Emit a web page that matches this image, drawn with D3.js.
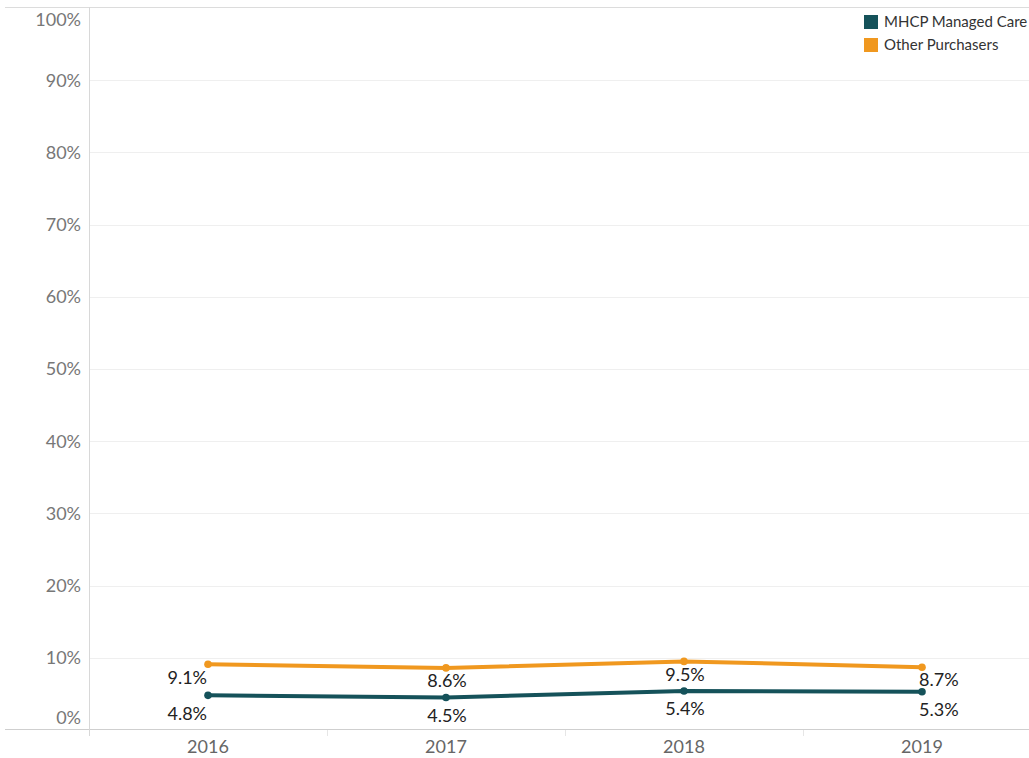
<!DOCTYPE html>
<html>
<head>
<meta charset="utf-8">
<script src="https://cdn.jsdelivr.net/npm/d3@7"></script>
<style>
  body { margin: 0; background: #fff; }
  svg { font-family: Lato, "Open Sans", sans-serif; }
</style>
</head>
<body>
<svg id="chart" width="1029" height="758"></svg>
<script>
const years = ["2016", "2017", "2018", "2019"];
const mhcpValues = [0.048, 0.045, 0.054, 0.053];
const otherValues = [0.091, 0.086, 0.095, 0.087];
const yTicks = [0, 0.1, 0.2, 0.3, 0.4, 0.5, 0.6, 0.7, 0.8, 0.9, 1.0];
const seriesNames = ["MHCP Managed Care", "Other Purchasers"];
const seriesColors = ["#15525a", "#f0981f"];

const svg = d3.select("#chart");
const plotLeft = 89, plotTop = 8, plotBottom = 730;

let xScale = d3.scaleBand().domain(years).range([plotLeft, plotLeft + 238 * 4]);
let yScale = d3.scaleLinear().domain([0, 1]).range([plotBottom, plotTop]);

// gridlines
svg.selectAll(".grid")
  .data(yTicks.filter(function(d){ return d > 0 && d < 1; }))
  .enter().append("line")
  .attr("x1", plotLeft).attr("x2", 1029)
  .attr("y1", function(d){ return Math.round(yScale(d)) + 0.5; })
  .attr("y2", function(d){ return Math.round(yScale(d)) + 0.5; })
  .style("stroke", "#efefef").style("stroke-width", 1);

// frame lines
svg.append("line").attr("x1", 5).attr("x2", 1029).attr("y1", 7.5).attr("y2", 7.5)
  .style("stroke", "#dcdcdc");
svg.append("line").attr("x1", 5).attr("x2", 1029).attr("y1", 729.5).attr("y2", 729.5)
  .style("stroke", "#cfcfcf");
svg.append("line").attr("x1", plotLeft + 0.5).attr("x2", plotLeft + 0.5).attr("y1", 7).attr("y2", 736)
  .style("stroke", "#d8d8d8");

// band separators at bottom
svg.selectAll(".sep")
  .data(years.slice(1))
  .enter().append("line")
  .attr("x1", function(d){ return xScale(d) + 0.5; })
  .attr("x2", function(d){ return xScale(d) + 0.5; })
  .attr("y1", 730).attr("y2", 736)
  .style("stroke", "#e6e6e6");

// y axis labels
svg.selectAll(".ylab")
  .data(yTicks)
  .enter().append("text")
  .attr("x", 81)
  .attr("y", function(d){
    let y = yScale(d);
    if (d === 0) y -= 12;
    if (d === 1) y += 12;
    return y;
  })
  .attr("dy", "0.35em")
  .attr("text-anchor", "end")
  .style("font-size", "18px")
  .style("fill", "#777")
  .text(function(d){ return Math.round(d * 100) + "%"; });

// x axis labels
svg.selectAll(".xlab")
  .data(years)
  .enter().append("text")
  .attr("x", function(d){ return xScale(d) + xScale.bandwidth() / 2; })
  .attr("y", 747)
  .attr("dy", "0.35em")
  .attr("text-anchor", "middle")
  .style("font-size", "18px")
  .style("fill", "#666")
  .text(function(d){ return d; });

function drawSeries(values, color, labelOffset) {
  let cx = function(d, i){ return xScale(years[i]) + xScale.bandwidth() / 2; };
  let line = d3.line()
    .x(cx)
    .y(function(d){ return yScale(d); });

  svg.append("path")
    .datum(values)
    .attr("d", line)
    .style("fill", "none")
    .style("stroke", color)
    .style("stroke-width", 4)
    .style("stroke-linejoin", "round");

  svg.selectAll(null)
    .data(values)
    .enter().append("circle")
    .attr("cx", cx)
    .attr("cy", function(d){ return yScale(d); })
    .attr("r", 3.8)
    .style("fill", color);

  svg.selectAll(null)
    .data(values)
    .enter().append("text")
    .attr("x", function(d, i){
      if (i === 0) return cx(d, i) - 1;
      if (i === values.length - 1) return cx(d, i) - 3;
      return cx(d, i) + 1;
    })
    .attr("y", function(d){ return yScale(d) + labelOffset; })
    .attr("dy", "0.35em")
    .attr("text-anchor", function(d, i){
      if (i === 0) return "end";
      if (i === values.length - 1) return "start";
      return "middle";
    })
    .style("font-size", "18px")
    .style("fill", "#222")
    .text(function(d){ return (d * 100).toFixed(1) + "%"; });
}

drawSeries(otherValues, seriesColors[1], 13);
drawSeries(mhcpValues, seriesColors[0], 18);

// legend
let legend = svg.selectAll(".legend")
  .data(seriesNames)
  .enter().append("g")
  .attr("transform", function(d, i){ return "translate(864," + (15 + i * 23) + ")"; });
legend.append("rect")
  .attr("width", 14).attr("height", 14)
  .style("fill", function(d, i){ return seriesColors[i]; });
legend.append("text")
  .attr("x", 20).attr("y", 7)
  .attr("dy", "0.35em")
  .style("font-size", "15px")
  .style("fill", "#333")
  .text(function(d){ return d; });
</script>
</body>
</html>
